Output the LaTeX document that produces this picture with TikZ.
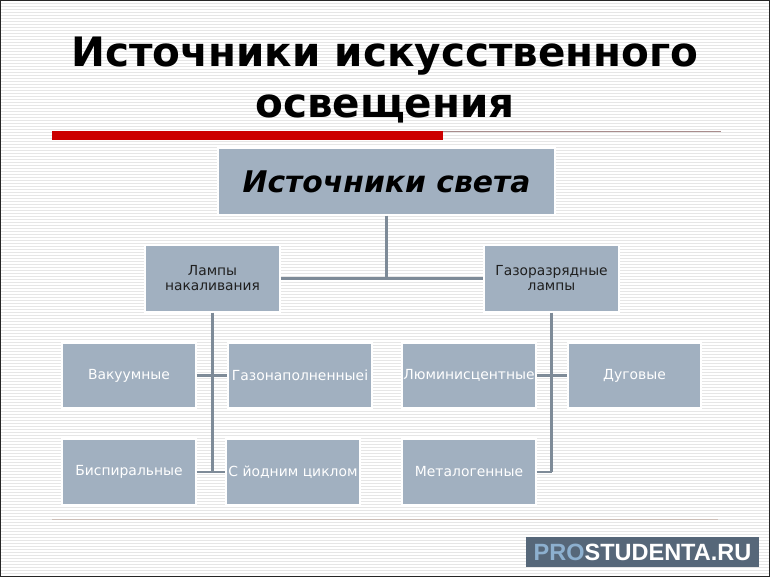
\documentclass[tikz,border=0pt]{standalone}
\usepackage{fontspec}
\setmainfont{DejaVu Sans}
\newfontfamily\wmfont{Liberation Sans}
\definecolor{boxfill}{HTML}{A1B0C0}
\definecolor{linec}{HTML}{7E8B98}
\definecolor{stripe}{HTML}{E6E6E6}
\definecolor{redbar}{HTML}{CC0000}
\definecolor{thinred}{HTML}{A88C8C}
\definecolor{thinbot}{HTML}{CDBFB8}
\definecolor{wmbg}{HTML}{566779}
\definecolor{wmpro}{HTML}{8DB0CF}
\tikzset{
  topbox/.style={rectangle, fill=boxfill, draw=white, line width=1.2pt, minimum width=337pt, minimum height=67pt, inner sep=0pt,
    font=\fontsize{29.8}{32}\selectfont\bfseries\itshape, text=black},
  midbox/.style={rectangle, fill=boxfill, draw=white, line width=1.2pt, minimum width=135pt, minimum height=67pt, inner sep=0pt,
    align=center, font=\fontsize{13.8}{15}\selectfont, text=black!88},
  leaf/.style={rectangle, fill=boxfill, draw=white, line width=1.2pt, minimum height=65pt, inner sep=0pt,
    font=\fontsize{13.9}{15}\selectfont, text=white},
  conn/.style={draw=linec, line width=2.5pt},
  titletext/.style={font=\fontsize{40.5}{51}\selectfont\bfseries, align=center, text=black, inner sep=0pt}
}
\begin{document}
\begin{tikzpicture}[x=1pt,y=-1pt]
\useasboundingbox (0,0) rectangle (770,577);
\fill[white] (0,0) rectangle (770,577);
\foreach \k in {0,...,192} {
  \draw[stripe, line width=1.3pt] (0,{0.8+3*\k}) -- (770,{0.8+3*\k});
}
% title
\node[titletext, anchor=base] (t1) at (385,67) {Источники искусственного};
\node[titletext, anchor=base] (t2) at (385,118) {освещения};
% red rule
\fill[redbar] (52,131) rectangle (443,140);
\draw[thinred, line width=1pt] (443,131.5) -- (721,131.5);
% boxes
\node[topbox] (top) at (386.5,181.5) {Источники света};
\node[midbox] (lm) at (212.5,278.5) {Лампы\\накаливания};
\node[midbox] (rm) at (551.5,278.5) {Газоразрядные\\лампы};
\node[leaf, minimum width=134pt] (vac) at (129,375.5) {Вакуумные};
\node[leaf, minimum width=144pt] (gaz) at (300,375.5) {Газонаполненныеi};
\node[leaf, minimum width=134pt, minimum height=66pt] (bis) at (129,472) {Биспиральные};
\node[leaf, minimum width=134pt, minimum height=66pt] (yod) at (293,472) {С йодним циклом};
\node[leaf, minimum width=134pt] (lum) at (469,375.5) {Люминисцентные};
\node[leaf, minimum width=133pt] (dug) at (634.5,375.5) {Дуговые};
\node[leaf, minimum width=134pt, minimum height=66pt] (met) at (469,472) {Металогенные};
% connectors
\coordinate (topj) at (top.south |- lm.east);
\draw[conn] (top.south) -- (topj);
\draw[conn] (lm.east) -- (rm.west);
\coordinate (lj) at (lm.south |- bis.east);
\draw[conn] (lm.south) -- (lj);
\draw[conn] (vac.east) -- (gaz.west);
\draw[conn] (bis.east) -- (yod.west);
\coordinate (rj) at (rm.south |- met.east);
\draw[conn] (rm.south) -- (rj);
\draw[conn] (lum.east) -- (dug.west);
\draw[conn] (met.east) -- (rj);
% bottom rule
\draw[thinbot, line width=1pt] (52,519) -- (718,519);
% watermark
\node[fill=wmbg, minimum width=233pt, minimum height=30pt, inner sep=0pt,
  font=\wmfont\fontsize{23.5}{26}\selectfont\bfseries] (wm) at (642.5,552)
  {\textcolor{wmpro}{PRO}\textcolor{white}{STUDENTA.RU}};
% frame
\draw[black!85, line width=2.5pt] (0,0) rectangle (770,577);
\end{tikzpicture}
\end{document}
